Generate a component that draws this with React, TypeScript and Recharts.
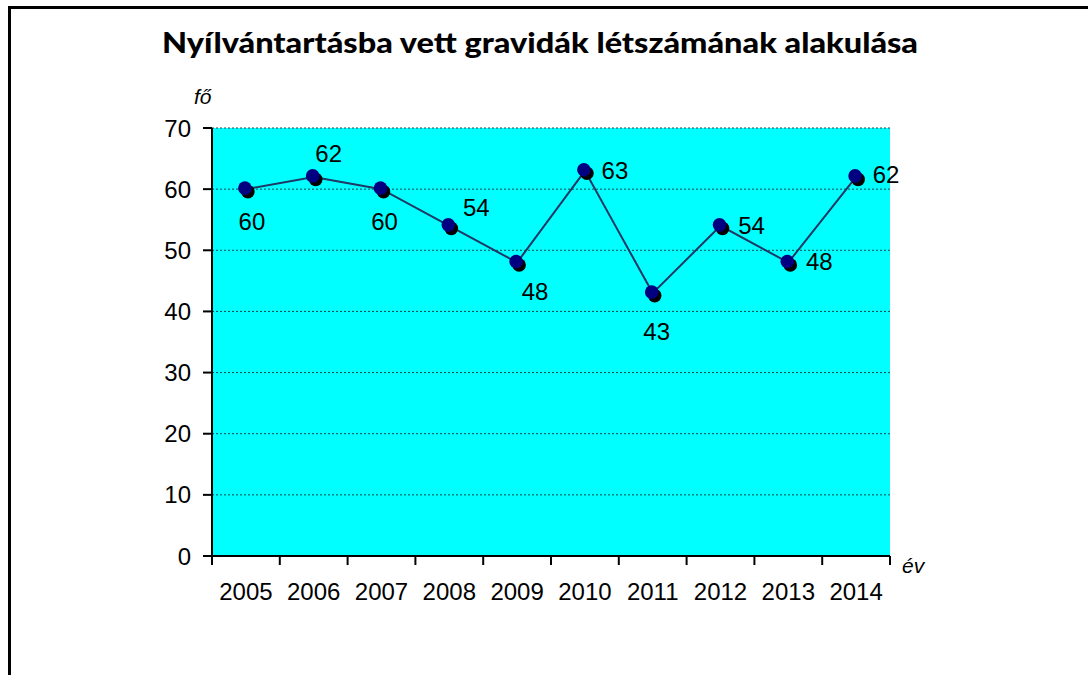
import React from "react";
import { LineChart, Line, XAxis, YAxis, CartesianGrid, LabelList } from "recharts";

const years = ["2005", "2006", "2007", "2008", "2009", "2010", "2011", "2012", "2013", "2014"];
const counts = [60, 62, 60, 54, 48, 63, 43, 54, 48, 62];
const yTicks = [0, 10, 20, 30, 40, 50, 60, 70];
const titleText = "Nyílvántartásba vett gravidák létszámának alakulása";
const yUnit = "fő";
const xUnit = "év";

const data = years.map((year, i) => ({ pos: i + 0.5, year, value: counts[i] }));
const xTicks: number[] = [];
for (let i = 0; i <= years.length * 2; i++) xTicks.push(i / 2);

// label placement (offset of label centre from point), style only
const labelOffsets: [number, number][] = [
  [6, 32], [15, -23], [3, 32], [27, -18], [18, 29],
  [30, 0], [4, 38], [31, 0], [31, -1], [30, -2],
];

const FONT = "Arial, 'Liberation Sans', sans-serif";
const FS = 24;

const XTick = (props: any) => {
  const { x, y, payload } = props;
  const v = payload.value as number;
  if (Number.isInteger(v)) {
    return <line x1={x} x2={x} y1={y} y2={y + 9} stroke="#000" strokeWidth={2} />;
  }
  const idx = Math.floor(v);
  return (
    <text x={x} y={y + 38} textAnchor="middle" dominantBaseline="middle" fontSize={FS} fontFamily={FONT} fill="#000">
      {years[idx]}
    </text>
  );
};

const Dot = (props: any) => {
  const { cx, cy, index } = props;
  if (cx == null || cy == null) return null;
  return (
    <g key={"d" + index}>
      <circle cx={cx + 2} cy={cy + 2.5} r={6.8} fill="#000" />
      <circle cx={cx - 1} cy={cy - 1} r={6.8} fill="#000080" />
    </g>
  );
};

const ValueLabel = (props: any) => {
  const { x, y, value, index } = props;
  const [dx, dy] = labelOffsets[index] || [0, -20];
  return (
    <text x={x + dx} y={y + dy} textAnchor="middle" dominantBaseline="central" fontSize={FS} fontFamily={FONT} fill="#000">
      {value}
    </text>
  );
};

export default function App() {
  return (
    <div style={{ position: "absolute", left: 0, top: 0, width: 1088, height: 675, background: "#fff", overflow: "hidden" }}>
      <div
        style={{
          position: "absolute",
          left: 8,
          top: 6,
          width: 1090,
          height: 680,
          borderLeft: "3px solid #000",
          borderTop: "3px solid #000",
          boxSizing: "border-box",
        }}
      />
      <div style={{ position: "absolute", left: 0, top: 0 }}>
        <LineChart width={1088} height={675} data={data} margin={{ top: 128, right: 198, bottom: 79, left: 152 }}>
          <CartesianGrid fill="#00FFFF" vertical={false} stroke="#1a4a4a" strokeDasharray="2 2" strokeWidth={1} />
          <XAxis
            dataKey="pos"
            type="number"
            domain={[0, years.length]}
            ticks={xTicks}
            interval={0}
            tick={<XTick />}
            tickLine={false}
            tickSize={0}
            tickMargin={0}
            height={40}
            axisLine={{ stroke: "#000", strokeWidth: 2 }}
          />
          <YAxis
            type="number"
            domain={[0, 70]}
            ticks={yTicks}
            interval={0}
            width={60}
            tickSize={9}
            tickMargin={12}
            tickLine={{ stroke: "#000", strokeWidth: 2 }}
            axisLine={{ stroke: "#000", strokeWidth: 2 }}
            tick={{ fontSize: FS, fontFamily: FONT, fill: "#000" }}
          />
          <Line
            type="linear"
            dataKey="value"
            stroke="#1F3864"
            strokeWidth={2}
            dot={<Dot />}
            activeDot={false}
            isAnimationActive={false}
          >
            <LabelList dataKey="value" content={<ValueLabel />} />
          </Line>
        </LineChart>
      </div>
      <svg style={{ position: "absolute", left: 0, top: 0 }} width={1088} height={675}>
        <text
          x={162}
          y={53}
          textLength={756}
          lengthAdjust="spacingAndGlyphs"
          fontSize={29}
          fontWeight={900}
          fontFamily="Lato, 'Open Sans', sans-serif"
          fill="#000"
        >
          {titleText}
        </text>
        <text x={194} y={104} fontSize={21} fontStyle="italic" fontFamily={FONT} fill="#000">
          {yUnit}
        </text>
        <text x={902} y={573} fontSize={21} fontStyle="italic" fontFamily={FONT} fill="#000">
          {xUnit}
        </text>
      </svg>
    </div>
  );
}
